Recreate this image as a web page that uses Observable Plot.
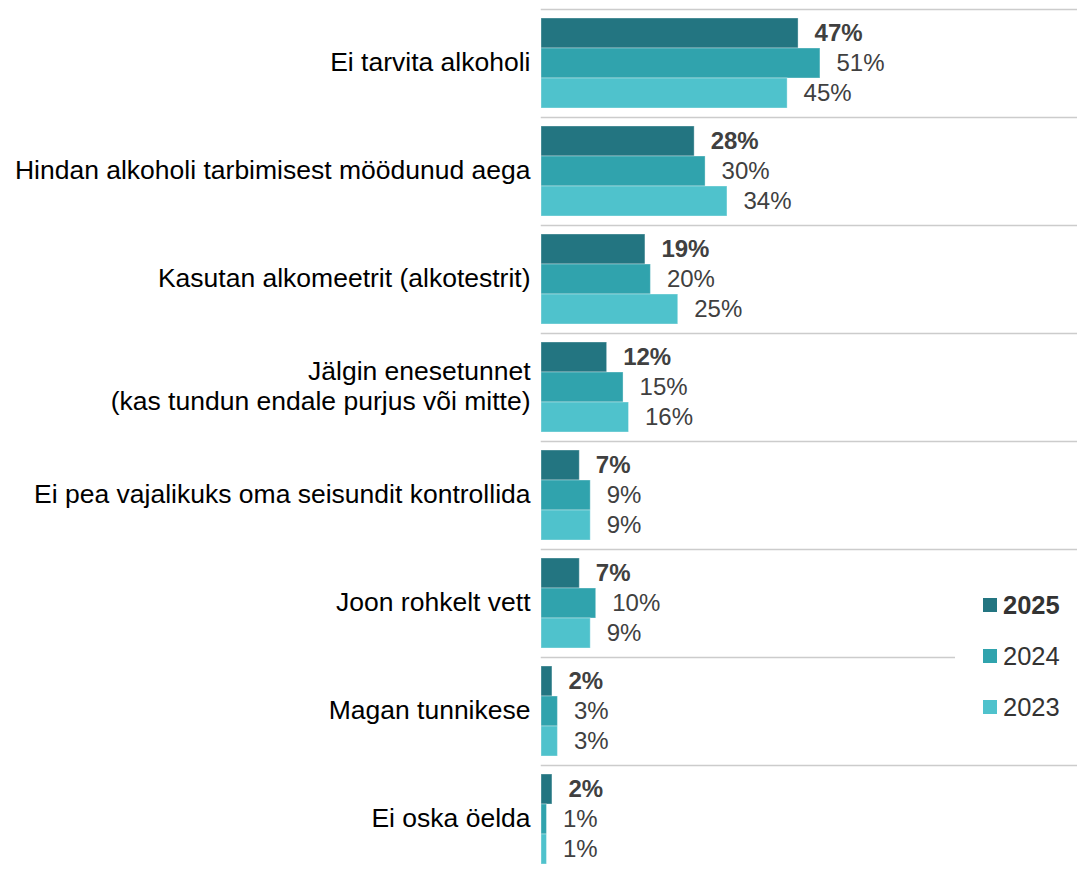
<!DOCTYPE html>
<html>
<head>
<meta charset="utf-8">
<script src="https://cdn.jsdelivr.net/npm/d3@7"></script>
<script src="https://cdn.jsdelivr.net/npm/@observablehq/plot@0.6"></script>
<style>
  body { margin: 0; background: #fff; font-family: "Liberation Sans", Arial, sans-serif; }
  #wrap { position: relative; width: 1077px; height: 870px; overflow: hidden; }
  #legend { position: absolute; left: 955px; top: 580px; width: 122px; height: 150px; background: #fff; }
  .li { position: absolute; left: 28px; height: 30px; display: flex; align-items: center; font-size: 25.5px; color: #333; }
  .sw { width: 14px; height: 14px; margin-right: 6px; }
</style>
</head>
<body>
<div id="wrap"><div id="chart"></div><div id="legend"></div></div>
<script>
const categories = [
  "Ei tarvita alkoholi",
  "Hindan alkoholi tarbimisest möödunud aega",
  "Kasutan alkomeetrit (alkotestrit)",
  "Jälgin enesetunnet\n(kas tundun endale purjus või mitte)",
  "Ei pea vajalikuks oma seisundit kontrollida",
  "Joon rohkelt vett",
  "Magan tunnikese",
  "Ei oska öelda"
];
const years = ["2025", "2024", "2023"];
const v2025 = [47, 28, 19, 12, 7, 7, 2, 2];
const v2024 = [51, 30, 20, 15, 9, 10, 3, 1];
const v2023 = [45, 34, 25, 16, 9, 9, 3, 1];
const colors = ["#237581", "#30a3ad", "#4fc2cc"];

const series = [v2025, v2024, v2023];
const rows = [];
categories.forEach((c, i) => {
  years.forEach((y, k) => rows.push({category: c, year: y, value: series[k][i]}));
});
const rowsBold = rows.filter(d => d.year === "2025");
const rowsNormal = rows.filter(d => d.year !== "2025");

const labelOpts = {
  x: "value", y: "year", fy: "category",
  text: d => d.value + "%",
  textAnchor: "start", dx: 16,
  fontSize: 24, fill: "#404040"
};

const chart = Plot.plot({
  width: 1077,
  height: 870,
  marginLeft: 541,
  marginRight: 0,
  marginTop: 7,
  marginBottom: -5,
  style: {fontFamily: "'Liberation Sans', Arial, sans-serif", background: "#fff"},
  x: {domain: [0, 98], axis: null},
  y: {domain: years, axis: null, paddingInner: 0, paddingOuter: 0.3},
  fy: {domain: categories, axis: null, padding: 0},
  color: {domain: years, range: colors},
  marks: [
    Plot.frame({anchor: "top", stroke: "#cccccc", strokeWidth: 1.5}),
    Plot.barX(rows, {x: "value", y: "year", fy: "category", fill: "year", stroke: "#ffffff", strokeOpacity: 0.35, strokeWidth: 1}),
    Plot.text(rowsBold, {...labelOpts, fontWeight: "bold"}),
    Plot.text(rowsNormal, labelOpts),
    Plot.text(categories, {
      fy: d => d, text: d => d,
      frameAnchor: "left", textAnchor: "end", dx: -11, dy: -2.5,
      fontSize: 26.5, fill: "#000", lineHeight: 1.13
    })
  ]
});
document.getElementById("chart").appendChild(chart);

const legend = document.getElementById("legend");
years.forEach((y, k) => {
  const d = document.createElement("div");
  d.className = "li";
  d.style.top = (10 + k * 51) + "px";
  if (k === 0) d.style.fontWeight = "bold";
  const s = document.createElement("span");
  s.className = "sw";
  s.style.background = colors[k];
  d.appendChild(s);
  d.appendChild(document.createTextNode(y));
  legend.appendChild(d);
});
</script>
</body>
</html>
